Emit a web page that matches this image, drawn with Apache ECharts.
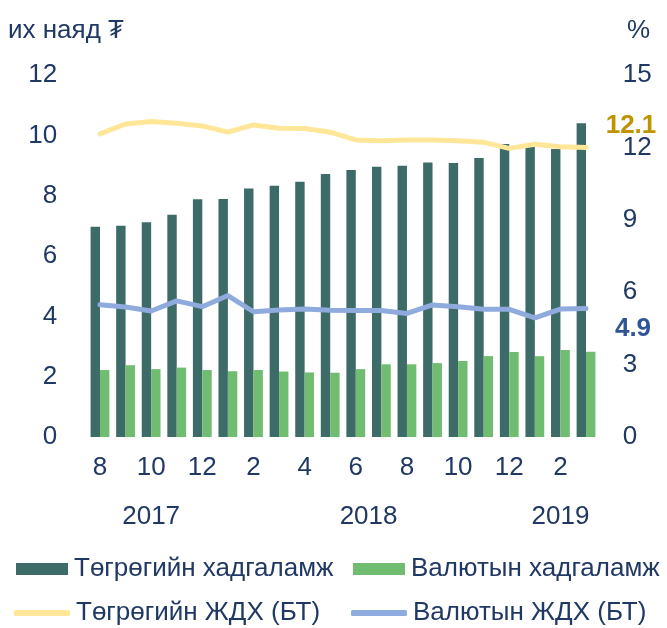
<!DOCTYPE html>
<html>
<head>
<meta charset="utf-8">
<script src="https://cdn.jsdelivr.net/npm/echarts@6/dist/echarts.min.js"></script>
<style>html,body{margin:0;padding:0;background:#fff}#c{width:667px;height:628px}</style>
</head>
<body>
<div id="c"></div>
<script>
// ---- data ----
const months = ['8','9','10','11','12','1','2','3','4','5','6','7','8','9','10','11','12','1','2','3'];
const years = [{text:'2017', at:2}, {text:'2018', at:10.5}, {text:'2019', at:18}];
const seriesNames = ['Төгрөгийн хадгаламж','Валютын хадгаламж','Төгрөгийн ЖДХ (БТ)','Валютын ЖДХ (БТ)'];
const mntDeposits = [6.97,7.00,7.12,7.37,7.88,7.89,8.24,8.33,8.46,8.72,8.85,8.96,8.99,9.10,9.08,9.25,9.71,9.65,9.55,10.40];
const fxDeposits  = [2.22,2.38,2.25,2.30,2.22,2.18,2.22,2.17,2.14,2.13,2.25,2.41,2.41,2.45,2.52,2.68,2.82,2.68,2.88,2.83];
const mntRate = [12.56,12.97,13.07,13.00,12.89,12.63,12.93,12.79,12.78,12.63,12.31,12.28,12.31,12.31,12.28,12.21,11.96,12.13,12.03,12.00];
const fxRate  = [5.48,5.39,5.22,5.64,5.40,5.86,5.19,5.26,5.30,5.25,5.24,5.24,5.12,5.47,5.40,5.29,5.29,4.94,5.30,5.32];
const leftTitle = 'их наяд ₮';
const rightTitle = '%';
const annotations = ['12.1', '4.9'];

const TXT = '#203864';
const FONT = 'Liberation Sans, Arial, sans-serif';
const C_DARK = '#3D6B68', C_GREEN = '#70BD72', C_YEL = '#FFE699', C_BLUE = '#8FAADC';

const chart = echarts.init(document.getElementById('c'));
const legendBase = {orient:'horizontal', itemGap:0, padding:0, textStyle:{color:TXT, fontSize:26, fontFamily:FONT, padding:[0,0,0,1]}, selectedMode:false};
chart.setOption({
  animation:false,
  textStyle:{fontFamily:FONT},
  grid:{left:87.2, right:68.2, top:75, bottom:191, containLabel:false},
  legend:[
    Object.assign({}, legendBase, {data:[seriesNames[0]], left:16, top:556, itemWidth:52, itemHeight:12, icon:'rect'}),
    Object.assign({}, legendBase, {data:[seriesNames[1]], left:353, top:556, itemWidth:52, itemHeight:12, icon:'rect'}),
    Object.assign({}, legendBase, {data:[seriesNames[2]], left:14, top:600, itemWidth:56, itemHeight:6, icon:'roundRect'}),
    Object.assign({}, legendBase, {data:[seriesNames[3]], left:351, top:600, itemWidth:56, itemHeight:6, icon:'roundRect'})
  ],
  xAxis:{type:'category', data:months, axisLine:{show:false}, axisTick:{show:false},
    axisLabel:{interval:1, color:TXT, fontSize:26, margin:18, fontFamily:FONT}},
  yAxis:[
    {type:'value', min:0, max:12, interval:2, splitLine:{show:false}, axisLine:{show:false}, axisTick:{show:false},
     axisLabel:{color:TXT, fontSize:26, margin:30, fontFamily:FONT}},
    {type:'value', min:0, max:15, interval:3, splitLine:{show:false}, axisLine:{show:false}, axisTick:{show:false},
     axisLabel:{color:TXT, fontSize:26, margin:24, fontFamily:FONT}}
  ],
  series:[
    {name:seriesNames[0], type:'bar', data:mntDeposits, barWidth:9.4, barGap:'0%', itemStyle:{color:C_DARK}},
    {name:seriesNames[1], type:'bar', data:fxDeposits, barWidth:9.4, barGap:'0%', itemStyle:{color:C_GREEN}},
    {name:seriesNames[2], type:'line', yAxisIndex:1, data:mntRate, symbol:'none', z:5,
     lineStyle:{color:C_YEL, width:5, cap:'round', join:'round'}, itemStyle:{color:C_YEL}},
    {name:seriesNames[3], type:'line', yAxisIndex:1, data:fxRate, symbol:'none', z:5,
     lineStyle:{color:C_BLUE, width:5, cap:'round', join:'round'}, itemStyle:{color:C_BLUE}}
  ]
});

// year labels & annotations positioned via axis conversion
function px(i){
  const a = chart.convertToPixel({xAxisIndex:0}, Math.floor(i));
  if (i === Math.floor(i)) return a;
  const b = chart.convertToPixel({xAxisIndex:0}, Math.ceil(i));
  return a + (b - a) * (i - Math.floor(i));
}
const g = years.map(y => ({type:'text', x:px(y.at), y:517,
  style:{text:y.text, fill:TXT, font:'26px ' + FONT, align:'center', verticalAlign:'middle'}}));
g.push({type:'text', x:631, y:126, style:{text:annotations[0], fill:'#C09300', font:'bold 26px ' + FONT, align:'center', verticalAlign:'middle'}});
g.push({type:'text', x:633, y:329, style:{text:annotations[1], fill:'#2F5597', font:'bold 26px ' + FONT, align:'center', verticalAlign:'middle'}});
g.push({type:'text', x:8, y:31, style:{text:leftTitle, fill:TXT, font:'26px ' + FONT, align:'left', verticalAlign:'middle'}});
g.push({type:'text', x:650, y:31, style:{text:rightTitle, fill:TXT, font:'26px ' + FONT, align:'right', verticalAlign:'middle'}});
chart.setOption({graphic:g});
</script>
</body>
</html>
